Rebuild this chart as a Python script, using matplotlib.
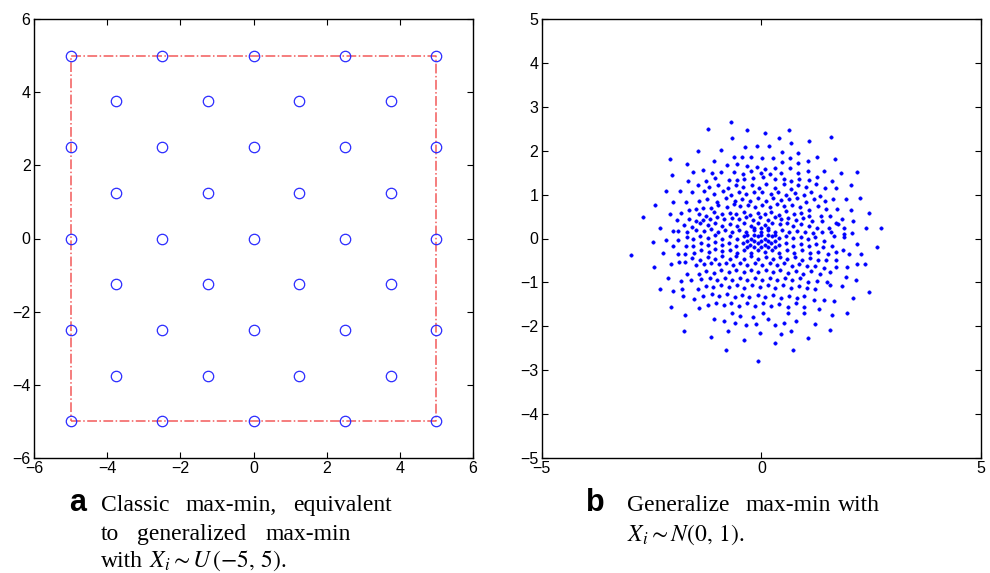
import numpy as np
import matplotlib
matplotlib.use("Agg")
from matplotlib import pyplot as plt

plt.rcParams['font.family'] = ['Liberation Sans', 'DejaVu Sans']
plt.rcParams['mathtext.fontset'] = 'stix'

# panel a: classic max-min design on [-5, 5]^2
grid_outer = [-5, -2.5, 0, 2.5, 5]
grid_inner = [-3.75, -1.25, 1.25, 3.75]
box_lo, box_hi = -5, 5
ticks_a = [-6, -4, -2, 0, 2, 4, 6]

# panel b: generalized max-min with N(0,1)
gauss_pts = [
    (-0.70, 2.66), (-1.21, 2.49), (-0.32, 2.47), (0.62, 2.47), (0.09, 2.40),
    (-0.66, 2.30), (0.40, 2.29), (1.59, 2.31), (1.09, 2.22), (0.67, 2.18),
    (-0.38, 2.08), (-0.10, 2.10), (0.18, 2.11), (-1.44, 1.99), (-0.91, 2.02),
    (0.46, 1.96), (0.84, 1.94),
    (-2.08, 1.82), (-0.63, 1.85), (-0.43, 1.85), (-0.23, 1.85), (0.02, 1.83),
    (0.26, 1.83), (0.66, 1.83), (1.27, 1.86), (1.67, 1.81),
    (-1.70, 1.69), (-1.08, 1.76), (-0.78, 1.68), (-0.55, 1.69), (0.47, 1.74),
    (0.84, 1.71), (1.07, 1.77),
    (-1.33, 1.57), (-0.32, 1.65), (-0.11, 1.62), (0.09, 1.58), (0.30, 1.60),
    (0.66, 1.61),
    (-2.04, 1.44), (-1.56, 1.51), (-1.13, 1.50), (-0.92, 1.52), (-0.62, 1.51),
    (-0.42, 1.46), (-0.23, 1.53), (-0.01, 1.50), (0.20, 1.48), (0.45, 1.50),
    (0.84, 1.50), (1.07, 1.53), (1.43, 1.53), (1.82, 1.49), (2.17, 1.51),
    (-1.67, 1.31), (-1.27, 1.32), (-1.05, 1.37), (-0.73, 1.33), (-0.56, 1.34),
    (-0.39, 1.35), (-0.19, 1.38), (0.03, 1.39), (0.32, 1.35), (0.52, 1.35),
    (0.68, 1.31), (0.86, 1.35), (1.08, 1.34), (1.27, 1.39), (1.60, 1.32),
    (-2.17, 1.08), (-1.85, 1.08), (-1.44, 1.22), (-1.19, 1.17), (-0.98, 1.23),
    (-0.77, 1.14), (-0.58, 1.22), (-0.41, 1.17), (-0.22, 1.23), (-0.05, 1.15),
    (0.11, 1.24), (0.31, 1.14), (0.51, 1.25), (0.67, 1.12), (0.83, 1.21),
    (1.02, 1.17), (1.24, 1.24), (1.46, 1.14), (1.71, 1.14), (2.03, 1.22),
    (-1.57, 1.07), (-1.30, 1.08), (-1.08, 1.01), (-0.87, 1.08), (-0.69, 0.98),
    (-0.51, 1.05), (-0.34, 1.02), (-0.16, 1.05), (0.02, 1.06), (0.21, 1.01),
    (0.37, 1.07), (0.55, 0.98), (0.77, 1.03), (0.96, 0.98), (1.14, 1.07),
    (1.34, 0.96), (1.63, 0.90), (1.93, 0.90), (2.25, 0.92),
    (-2.01, 0.84), (-1.71, 0.84), (-1.43, 0.85), (-1.24, 0.89), (-1.02, 0.84),
    (-0.81, 0.92), (-0.60, 0.86), (-0.43, 0.89), (-0.25, 0.86), (-0.07, 0.92),
    (0.10, 0.86), (0.27, 0.92), (0.45, 0.87), (0.63, 0.89), (0.81, 0.92),
    (1.02, 0.83), (1.20, 0.89), (1.46, 0.86),
    (-2.42, 0.77), (-2.09, 0.56), (-1.82, 0.59), (-1.64, 0.66), (-1.49, 0.68),
    (-1.33, 0.69), (-1.15, 0.69), (-0.98, 0.76), (-0.79, 0.72), (-0.63, 0.78),
    (-0.48, 0.74), (-0.30, 0.77), (-0.14, 0.72), (0.02, 0.76), (0.19, 0.72),
    (0.35, 0.79), (0.52, 0.74), (0.70, 0.77), (0.89, 0.72), (1.08, 0.65),
    (1.28, 0.75), (1.48, 0.68), (1.73, 0.68), (2.03, 0.66), (2.46, 0.57),
    (-1.92, 0.42), (-1.42, 0.56), (-1.25, 0.51), (-1.08, 0.60), (-0.89, 0.56),
    (-0.72, 0.59), (-0.57, 0.56), (-0.40, 0.61), (-0.25, 0.54), (-0.08, 0.59),
    (0.08, 0.56), (0.23, 0.61), (0.40, 0.54), (0.57, 0.62), (0.74, 0.56),
    (0.91, 0.59), (1.08, 0.52), (1.36, 0.51), (1.57, 0.52), (1.83, 0.44),
    (-2.70, 0.49), (-1.64, 0.44), (-1.49, 0.41), (-1.32, 0.42), (-1.17, 0.44),
    (-1.00, 0.48), (-0.84, 0.44), (-0.67, 0.47), (-0.51, 0.44), (-0.36, 0.48),
    (-0.19, 0.43), (-0.03, 0.49), (0.14, 0.43), (0.30, 0.48), (0.45, 0.44),
    (0.61, 0.47), (0.78, 0.42), (0.95, 0.47), (1.16, 0.41), (1.37, 0.41),
    (1.69, 0.35), (2.08, 0.39),
    (-2.30, 0.25), (-2.01, 0.18), (-1.77, 0.30), (-1.57, 0.27), (-1.39, 0.35),
    (-1.22, 0.31), (-1.05, 0.35), (-0.89, 0.28), (-0.72, 0.33), (-0.56, 0.29),
    (-0.40, 0.35), (-0.23, 0.29), (-0.08, 0.35), (0.08, 0.30), (0.25, 0.35),
    (0.42, 0.32), (0.58, 0.35), (0.73, 0.29), (0.90, 0.33), (1.08, 0.29),
    (1.27, 0.24), (1.54, 0.24), (1.75, 0.32), (1.89, 0.23), (2.39, 0.23),
    (2.73, 0.25),
    (-1.90, 0.17), (-1.70, 0.15), (-1.49, 0.20), (-1.31, 0.17), (-1.15, 0.22),
    (-0.98, 0.15), (-0.83, 0.20), (-0.67, 0.14), (-0.51, 0.20), (-0.34, 0.15),
    (-0.17, 0.20), (-0.01, 0.14), (0.15, 0.20), (0.31, 0.15), (0.48, 0.20),
    (0.64, 0.15), (0.81, 0.18), (0.99, 0.14), (1.17, 0.12), (1.39, 0.14),
    (1.58, 0.14), (1.88, 0.11), (2.07, 0.12),
    (-2.46, -0.08), (-2.16, -0.03), (-1.89, -0.04), (-1.70, 0.03), (-1.55, 0.00),
    (-1.39, 0.05), (-1.22, 0.02), (-1.05, 0.07), (-0.89, 0.00), (-0.72, 0.05),
    (-0.56, -0.02), (-0.40, 0.05), (-0.24, 0.00), (-0.08, 0.06), (0.08, 0.00),
    (0.24, 0.06), (0.40, 0.01), (0.57, 0.05), (0.73, 0.01), (0.90, 0.04),
    (1.07, 0.00), (1.23, 0.03), (1.43, -0.05), (1.65, 0.05), (1.88, 0.03),
    (2.18, -0.12),
    (-2.23, -0.32), (-2.01, -0.16), (-1.72, -0.17), (-1.55, -0.18), (-1.38, -0.11),
    (-1.21, -0.15), (-1.05, -0.09), (-0.89, -0.14), (-0.73, -0.11), (-0.57, -0.16),
    (-0.41, -0.11), (-0.25, -0.15), (-0.08, -0.10), (0.08, -0.15), (0.23, -0.11),
    (0.40, -0.15), (0.56, -0.11), (0.73, -0.17), (0.90, -0.12), (1.08, -0.17),
    (1.25, -0.12), (1.40, -0.20), (1.61, -0.17), (1.87, -0.26), (2.63, -0.20),
    (-2.96, -0.38), (-1.90, -0.36), (-1.73, -0.36), (-1.54, -0.33), (-1.37, -0.26),
    (-1.20, -0.31), (-1.05, -0.24), (-0.89, -0.29), (-0.72, -0.26), (-0.55, -0.32),
    (-0.39, -0.26), (-0.23, -0.32), (-0.07, -0.26), (0.09, -0.31), (0.25, -0.26),
    (0.41, -0.32), (0.58, -0.27), (0.75, -0.32), (0.93, -0.27), (1.10, -0.33),
    (1.28, -0.31), (1.51, -0.35), (1.69, -0.31), (1.99, -0.36), (2.26, -0.36),
    (-2.05, -0.59), (-1.73, -0.53), (-1.57, -0.44), (-1.39, -0.48), (-1.22, -0.42),
    (-1.05, -0.47), (-0.89, -0.41), (-0.72, -0.47), (-0.57, -0.41), (-0.40, -0.47),
    (-0.23, -0.41), (-0.07, -0.47), (0.10, -0.42), (0.26, -0.47), (0.42, -0.42),
    (0.59, -0.47), (0.77, -0.42), (0.93, -0.49), (1.11, -0.44), (1.29, -0.50),
    (1.48, -0.50), (1.70, -0.50), (1.95, -0.65), (2.37, -0.59),
    (-2.44, -0.65), (-1.87, -0.53), (-1.48, -0.61), (-1.31, -0.59), (-1.14, -0.55),
    (-0.96, -0.59), (-0.80, -0.56), (-0.64, -0.60), (-0.48, -0.55), (-0.32, -0.61),
    (-0.14, -0.56), (0.02, -0.61), (0.19, -0.56), (0.36, -0.60), (0.52, -0.56),
    (0.69, -0.62), (0.86, -0.57), (1.04, -0.62), (1.22, -0.63), (1.43, -0.67),
    (1.69, -0.65), (2.17, -0.57),
    (-2.12, -0.89), (-1.70, -0.80), (-1.42, -0.81), (-1.25, -0.74), (-1.08, -0.78),
    (-0.91, -0.72), (-0.73, -0.77), (-0.57, -0.72), (-0.40, -0.77), (-0.23, -0.71),
    (-0.07, -0.77), (0.10, -0.72), (0.27, -0.77), (0.43, -0.72), (0.60, -0.78),
    (0.78, -0.74), (0.95, -0.80), (1.14, -0.74), (1.33, -0.80), (1.56, -0.76),
    (1.93, -0.87),
    (-1.83, -0.97), (-1.60, -0.95), (-1.38, -0.93), (-1.18, -0.89), (-1.01, -0.95),
    (-0.83, -0.89), (-0.66, -0.95), (-0.49, -0.89), (-0.32, -0.95), (-0.14, -0.89),
    (0.02, -0.95), (0.19, -0.89), (0.36, -0.95), (0.53, -0.89), (0.70, -0.95),
    (0.89, -0.91), (1.07, -0.98), (1.27, -0.96), (1.50, -0.98), (1.83, -1.08),
    (2.16, -0.95),
    (-2.30, -1.14), (-2.02, -1.19), (-1.80, -1.15), (-1.45, -1.14), (-1.27, -1.08),
    (-1.09, -1.11), (-0.92, -1.06), (-0.73, -1.11), (-0.56, -1.07), (-0.39, -1.12),
    (-0.21, -1.06), (-0.04, -1.11), (0.14, -1.07), (0.31, -1.12), (0.49, -1.07),
    (0.67, -1.13), (0.86, -1.08), (1.04, -1.13), (1.23, -1.16), (1.56, -1.06),
    (2.45, -1.22), (2.08, -1.35),
    (-1.78, -1.32), (-1.53, -1.38), (-1.33, -1.31), (-1.13, -1.26), (-0.96, -1.32),
    (-0.78, -1.27), (-0.61, -1.33), (-0.45, -1.29), (-0.27, -1.34), (-0.08, -1.29),
    (0.09, -1.34), (0.27, -1.29), (0.45, -1.35), (0.63, -1.31), (0.81, -1.35),
    (0.98, -1.32), (1.20, -1.40), (1.43, -1.41), (1.66, -1.42),
    (-2.05, -1.55), (-1.42, -1.59), (-1.22, -1.52), (-1.04, -1.46), (-0.86, -1.52),
    (-0.68, -1.47), (-0.51, -1.53), (-0.32, -1.47), (-0.14, -1.53), (0.04, -1.47),
    (0.21, -1.53), (0.40, -1.49), (0.60, -1.55), (0.80, -1.47), (0.97, -1.55),
    (1.32, -1.61), (1.61, -1.75), (1.94, -1.70),
    (-1.73, -1.74), (-1.08, -1.83), (-0.84, -1.87), (-0.67, -1.70), (-0.60, -1.92),
    (-0.48, -1.76), (-0.36, -1.96), (-0.20, -1.78), (-0.13, -1.94), (0.03, -1.70),
    (0.16, -1.83), (0.30, -1.97), (0.51, -1.92), (0.61, -1.70), (0.80, -1.87),
    (0.96, -1.70), (1.22, -1.95), (1.57, -2.09),
    (-1.75, -2.11), (-1.15, -2.24), (-0.77, -2.11), (-0.40, -2.32), (-0.04, -2.15),
    (0.44, -2.18), (0.67, -2.11), (1.06, -2.26), (0.30, -2.39), (-0.80, -2.55),
    (-0.08, -2.78), (0.72, -2.53),
    # extra points in the dense core
    (-0.32, 0.09), (-0.16, 0.09), (0.00, 0.09), (0.16, 0.09), (0.32, 0.09),
    (-0.32, -0.05), (-0.16, -0.05), (0.00, -0.05), (0.16, -0.05), (0.32, -0.05),
    (-0.32, -0.20), (-0.16, -0.20), (0.00, -0.20), (0.16, -0.20), (0.32, -0.20),
    (-0.16, 0.24), (0.00, 0.24), (0.16, 0.24),
]
ticks_bx = [-5, 0, 5]
ticks_by = [-5, -4, -3, -2, -1, 0, 1, 2, 3, 4, 5]


def matlab_axes(ax):
    ax.tick_params(direction='in', top=True, right=True, length=4,
                   width=0.8, labelsize=11.5, pad=2.5)
    for s in ax.spines.values():
        s.set_linewidth(1.0)


fig = plt.figure(figsize=(9.9, 5.73), dpi=100)

# ---- panel a
ax1 = fig.add_axes([34/990, 1 - 458/573, 439/990, 439/573])
bx = [box_lo, box_hi, box_hi, box_lo, box_lo]
by = [box_lo, box_lo, box_hi, box_hi, box_lo]
ax1.plot(bx, by, linestyle='-.', color='#f25a5a', lw=1.1, zorder=1)
gx, gy = np.meshgrid(grid_outer, grid_outer)
ix, iy = np.meshgrid(grid_inner, grid_inner)
px = np.concatenate([gx.ravel(), ix.ravel()])
py = np.concatenate([gy.ravel(), iy.ravel()])
ax1.plot(px, py, 'o', ms=7.5, mfc='none', mec='#2b2bff', mew=0.9,
         linestyle='none', zorder=2)
ax1.set_xlim(-6, 6)
ax1.set_ylim(-6, 6)
ax1.set_xticks(ticks_a)
ax1.set_yticks(ticks_a)
matlab_axes(ax1)

# ---- panel b
ax2 = fig.add_axes([541.7/990, 1 - 458/573, 439.3/990, 439/573])
pts = np.array(gauss_pts)
ax2.plot(pts[:, 0], pts[:, 1], 'o', ms=2.5, mfc='#0000ff', mec='#0000ff',
         mew=0.3, linestyle='none')
ax2.set_xlim(-5, 5)
ax2.set_ylim(-5, 5)
ax2.set_xticks(ticks_bx)
ax2.set_yticks(ticks_by)
matlab_axes(ax2)


def put(x, y, s, **kw):
    fig.text(x/990, 1 - y/573, s, va='baseline', ha='left', **kw)


serif = dict(family=['Liberation Serif', 'DejaVu Serif'], fontsize=17)
bold = dict(fontsize=22, fontweight='bold')

# caption a
put(69, 511, 'a', **bold)
put(101, 511, 'Classic', **serif)
put(186, 511, 'max-min,', **serif)
put(293, 511, 'equivalent', **serif)
put(101, 540, 'to', **serif)
put(137, 540, 'generalized', **serif)
put(266, 540, 'max-min', **serif)
put(101, 567, 'with', **serif)
put(149, 567, r'$X_i \sim U\,(-5,\,5)$.', **serif)

# caption b
put(586, 511, 'b', **bold)
put(627, 511, 'Generalize', **serif)
put(745, 511, 'max-min', **serif)
put(838, 511, 'with', **serif)
put(627, 541, r'$X_i \sim N(0,\,1)$.', **serif)

fig.savefig('out.png', dpi=100)
